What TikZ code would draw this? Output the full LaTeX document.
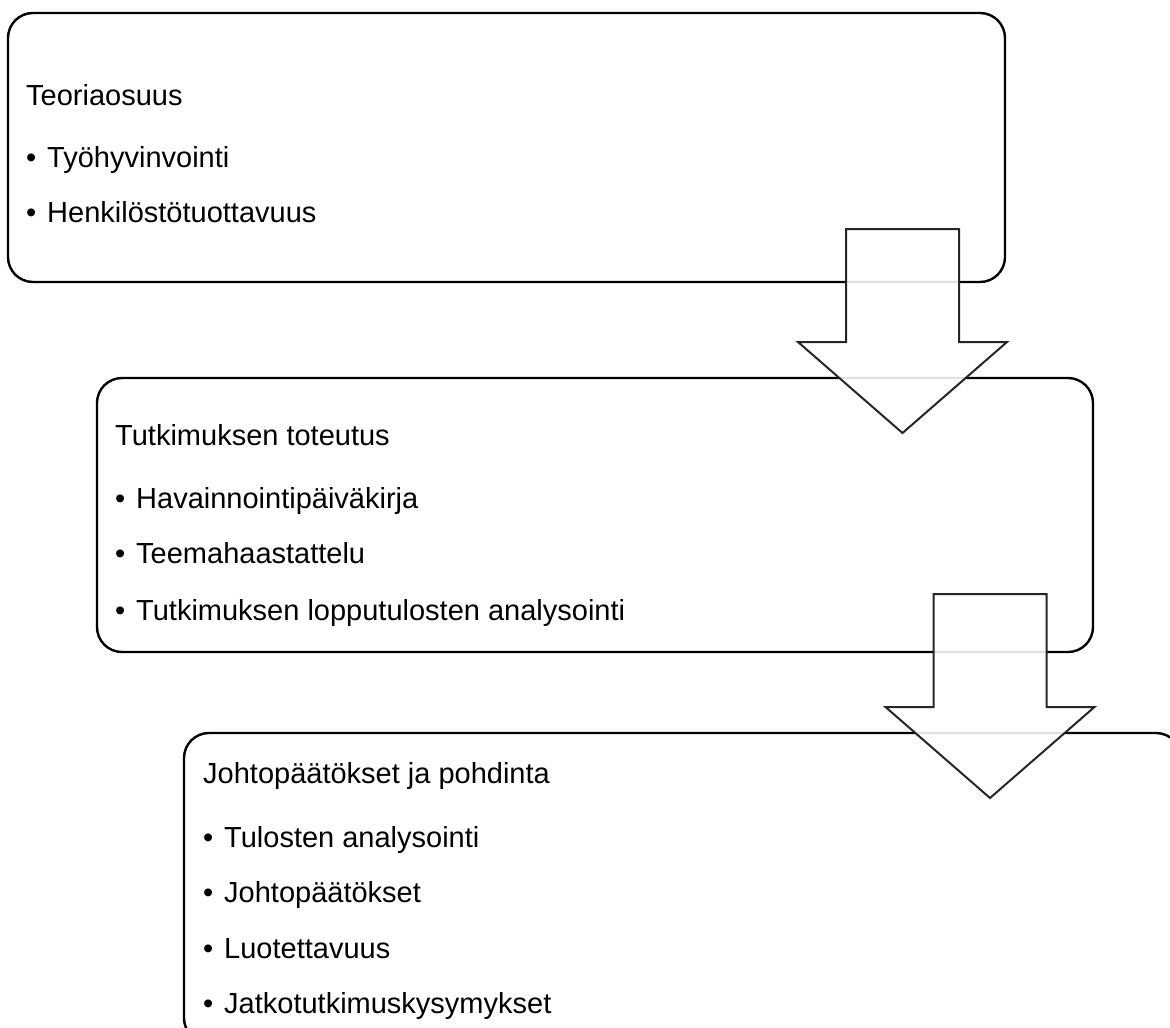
\documentclass[tikz,border=0pt]{standalone}
\usepackage{fontspec}
\setmainfont{Liberation Sans}
\usepackage{tikz}
\usetikzlibrary{positioning}
\newcommand{\itembullet}{\makebox[21pt][l]{•}}

\begin{document}
\begin{tikzpicture}[
  x=1pt, y=-1pt,
  stagebox/.style={draw=black, line width=2.4pt, rounded corners=25pt,
                   anchor=north west, inner sep=0pt, outer sep=0pt},
  itemtext/.style={anchor=base west, inner sep=0pt,
                   font=\fontsize{29}{35}\selectfont},
  blockarrow/.style={draw=black!85, line width=2pt, fill=white,
                     fill opacity=0.88, line join=miter},
]
  \useasboundingbox (0,0) rectangle (1170,1028);
  \clip (0,0) rectangle (1170,1028);
  % --- three stages, stepped to the right ---
  \node[stagebox, minimum width=997pt, minimum height=269pt] (teoria) at (8,13) {};
  \node[stagebox, minimum width=996pt, minimum height=274pt] (toteutus) at (97,378) {};
  \node[stagebox, minimum width=997pt, minimum height=310pt] (pohdinta) at (184,733) {};
  % --- texts, one node per line ---
  \foreach \y/\txt [count=\i] in {105/Teoriaosuus,
      167/\itembullet Työhyvinvointi,
      222/\itembullet Henkilöstötuottavuus}
    \node[itemtext] (teoria-\i) at (26,\y) {\txt};
  \foreach \y/\txt [count=\i] in {445/Tutkimuksen toteutus,
      508/\itembullet Havainnointipäiväkirja,
      563/\itembullet Teemahaastattelu,
      620/\itembullet Tutkimuksen lopputulosten analysointi}
    \node[itemtext] (toteutus-\i) at (115,\y) {\txt};
  \foreach \y/\txt [count=\i] in {783/Johtopäätökset ja pohdinta,
      847/\itembullet Tulosten analysointi,
      902/\itembullet Johtopäätökset,
      958/\itembullet Luotettavuus,
      1013/\itembullet Jatkotutkimuskysymykset}
    \node[itemtext] (pohdinta-\i) at (203,\y) {\txt};
  % --- block arrows between the stages (drawn on top) ---
  \def\sw{56.5}\def\hw{104.5}\def\sl{113}\def\tl{204}
  \foreach \cx/\cy in {902.5/229, 990/594}{
    \begin{scope}[shift={(\cx,\cy)}]
      \draw[blockarrow] (-\sw,0) -- (\sw,0) -- (\sw,\sl) -- (\hw,\sl)
        -- (0,\tl) -- (-\hw,\sl) -- (-\sw,\sl) -- cycle;
    \end{scope}
  }
\end{tikzpicture}
\end{document}
